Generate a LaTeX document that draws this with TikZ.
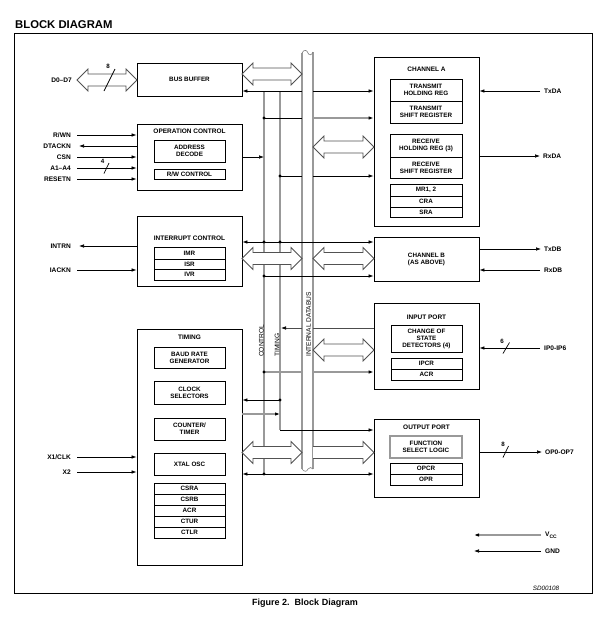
\documentclass[tikz,border=0pt]{standalone}
\usepackage{fontspec}
\setmainfont{Liberation Sans}
\usetikzlibrary{arrows.meta}
\tikzset{
 box/.style={draw, line width=0.8pt, inner sep=0pt, align=center, anchor=center, font=\fontsize{6.3}{7}\selectfont\bfseries},
 txt/.style={inner sep=0pt, align=center, font=\fontsize{6.5}{7}\selectfont\bfseries},
 lbl/.style={inner sep=0pt, font=\fontsize{6.6}{7}\selectfont\bfseries},
 num/.style={inner sep=0pt, font=\fontsize{6.2}{6.5}\selectfont\bfseries},
 tip/.tip={Latex[length=5pt,width=3.6pt,color=black]},
 arr/.style={-tip, line width=0.7pt},
 darr/.style={tip-tip, line width=0.7pt},
 ln/.style={line width=0.7pt},
 gln/.style={line width=1.2pt, draw=black!40},
 garr/.style={-tip, line width=1.2pt, draw=black!40},
 busln/.style={line width=1.4pt, draw=black!40},
 hollow/.style={draw=black!68, line width=0.8pt, fill=white, line join=miter},
 dot/.style={circle, fill=black, inner sep=0pt, minimum size=3.2pt},
 vtxt/.style={inner sep=0pt, rotate=90, anchor=west, font=\fontsize{6.6}{7}\selectfont},
}
\newcommand{\blk}[7][]{\node[box,#1,minimum width={(#5-#3)*1pt},minimum height={(#6-#4)*1pt}] (#2) at ({(#3+#5)/2},{(#4+#6)/2}) {#7};}
\newcommand{\hdbl}[3]{\draw[hollow] (#1,#3) -- ++(11,-11) -- ++(0,5) -- ({#2-11},{#3-6}) -- ++(0,-5) -- (#2,#3) -- ({#2-11},{#3+11}) -- ++(0,-5) -- ({#1+11},{#3+6}) -- ++(0,5) -- cycle;}
\newcommand{\hsgl}[3]{\draw[hollow] (#1,{#3-6}) -- ({#2-11},{#3-6}) -- ++(0,-5) -- (#2,#3) -- ({#2-11},{#3+11}) -- ++(0,-5) -- (#1,{#3+6});}
\begin{document}
\begin{tikzpicture}[x=1pt,y=-1pt]
\useasboundingbox (0,0) rectangle (609,619);
\node[anchor=base west, inner sep=0pt, font=\fontsize{11.3}{12}\selectfont\bfseries] (title) at (15,28) {BLOCK DIAGRAM};
\blk[line width=0.9pt]{frame}{14}{33}{592}{593}{}
\node[anchor=base, inner sep=0pt, font=\fontsize{9}{10}\selectfont\bfseries] (cap) at (305,605) {Figure 2.\ \ Block Diagram};
\node[anchor=base, inner sep=0pt, font=\fontsize{6.3}{7}\selectfont\itshape] (sd) at (546,590) {SD00108};

% internal databus
\fill[white] (302,53) rectangle (313,469);
\draw[busln] (302,53) -- (302,469);
\draw[busln] (313,52) -- (313,469);
\draw[black!50, line width=0.6pt] (302,53) .. controls (304,49) and (307,50) .. (308,53) .. controls (309,56) and (312,55) .. (313,52);
\draw[black!50, line width=0.6pt] (302,469) .. controls (304,472) and (307,472) .. (308,469) .. controls (309,467) and (312,467) .. (313,469);
\node[vtxt] (dbtxt) at (308.5,357) {INTERNAL DATABUS};

% control and timing lines
\coordinate (ctlT) at (264,91);
\coordinate (ctlB) at (264,474);
\coordinate (timT) at (280,91);
\coordinate (timB) at (280,430);
\draw[busln] (ctlT) -- (ctlB);
\draw[busln] (timT) -- (timB);
\node[vtxt] (ctltxt) at (261.3,357) {CONTROL};
\node[vtxt] (timtxt) at (277,357) {TIMING};

% blocks
\blk{busbuf}{137}{63}{242}{96}{BUS BUFFER}
\blk{opctl}{137}{124}{242}{190}{}
\node[txt] (opT) at (189.5,131) {OPERATION CONTROL};
\blk{addr}{154}{140}{225}{162}{ADDRESS\\DECODE}
\blk{rw}{154}{169}{225}{179}{R/W CONTROL}

\blk{intctl}{137}{216}{242}{286}{}
\node[txt] (intT) at (189.5,238) {INTERRUPT CONTROL};
\blk{imr}{154}{247}{225}{259}{IMR}
\blk{isr}{154}{259}{225}{269}{ISR}
\blk{ivr}{154}{269}{225}{280}{IVR}

\blk{timing}{137}{329}{242}{565}{}
\node[txt] (timT2) at (189.5,337) {TIMING};
\blk{baud}{154}{347}{225}{368}{BAUD RATE\\GENERATOR}
\blk{clks}{154}{381}{225}{404}{CLOCK\\SELECTORS}
\blk{ctr}{154}{418}{225}{440}{COUNTER/\\TIMER}
\blk{xtal}{154}{453}{225}{475}{XTAL OSC}
\blk{csra}{154}{483}{225}{494}{CSRA}
\blk{csrb}{154}{494}{225}{505}{CSRB}
\blk{acrT}{154}{505}{225}{516}{ACR}
\blk{ctur}{154}{516}{225}{527}{CTUR}
\blk{ctlr}{154}{527}{225}{538}{CTLR}

\blk{chA}{374}{57}{479}{226}{}
\node[txt] (chAT) at (426.5,69) {CHANNEL A};
\blk{thr}{390}{79}{462}{101}{TRANSMIT\\HOLDING REG}
\blk{tsr}{390}{101}{462}{123}{TRANSMIT\\SHIFT REGISTER}
\blk{rhr}{390}{134}{462}{157}{RECEIVE\\HOLDING REG (3)}
\blk{rsr}{390}{157}{462}{178}{RECEIVE\\SHIFT REGISTER}
\blk{mr}{390}{184}{462}{196}{MR1, 2}
\blk{cra}{390}{196}{462}{207}{CRA}
\blk{sra}{390}{207}{462}{217}{SRA}

\blk{chB}{374}{237}{479}{281}{CHANNEL B\\(AS ABOVE)}

\blk{inport}{374}{303}{479}{389}{}
\node[txt] (inT) at (426.5,317) {INPUT PORT};
\blk{cos}{391}{325}{462}{352}{CHANGE OF\\STATE\\DETECTORS (4)}
\blk{ipcr}{391}{358}{462}{369}{IPCR}
\blk{acrI}{391}{369}{462}{380}{ACR}

\blk{outport}{374}{419}{479}{497}{}
\node[txt] (outT) at (426.5,427) {OUTPUT PORT};
\blk[draw=black!40, line width=1.4pt]{fsl}{390}{436}{462}{458}{FUNCTION\\SELECT LOGIC}
\blk{opcr}{390}{463}{462}{474}{OPCR}
\blk{opr}{390}{474}{462}{485}{OPR}

% left side signals
\node[lbl, anchor=east] (d07) at (72,80) {D0–D7};
\hdbl{77}{137}{80}
\draw[ln] (104,91) -- (115,69);
\node[num] (n8a) at (108,66.5) {8};

\node[lbl, anchor=east] (rwn) at (71,135) {R/WN};
\node[lbl, anchor=east] (dtackn) at (71,146) {DTACKN};
\node[lbl, anchor=east] (csn) at (71,157) {CSN};
\node[lbl, anchor=east] (a14) at (71,168) {A1–A4};
\node[lbl, anchor=east] (resetn) at (71,179) {RESETN};
\draw[arr] ([xshift=6pt]rwn.east) -- (rwn -| opctl.west);
\draw[arr] (dtackn -| opctl.west) -- ([xshift=8pt]dtackn.east);
\draw[arr] ([xshift=6pt]csn.east) -- (csn -| opctl.west);
\draw[arr] ([xshift=6pt]a14.east) -- (a14 -| opctl.west);
\draw[ln] (104,173.5) -- (109,163);
\node[num] (n4) at (102.5,161) {4};
\draw[arr] ([xshift=6pt]resetn.east) -- (resetn -| opctl.west);

\node[lbl, anchor=east] (intrn) at (71,246) {INTRN};
\node[lbl, anchor=east] (iackn) at (71,270) {IACKN};
\draw[arr] (intrn -| intctl.west) -- ([xshift=8pt]intrn.east);
\draw[arr] ([xshift=6pt]iackn.east) -- (iackn -| intctl.west);

\node[lbl, anchor=east] (x1) at (71,457) {X1/CLK};
\node[lbl, anchor=east] (x2) at (71,472) {X2};
\draw[arr] ([xshift=6pt]x1.east) -- (x1 -| timing.west);
\draw[arr] ([xshift=6pt]x2.east) -- (x2 -| timing.west);

% right side signals
\node[lbl, anchor=west] (txda) at (544,91) {TxDA};
\node[lbl, anchor=west] (rxda) at (543,156) {RxDA};
\draw[arr] ([xshift=-4pt]txda.west) -- (txda -| chA.east);
\draw[arr] (rxda -| chA.east) -- ([xshift=-3pt]rxda.west);
\node[lbl, anchor=west] (txdb) at (544,249) {TxDB};
\node[lbl, anchor=west] (rxdb) at (544,270) {RxDB};
\draw[arr] (txdb -| chB.east) -- ([xshift=-3pt]txdb.west);
\draw[arr] ([xshift=-4pt]rxdb.west) -- (rxdb -| chB.east);
\node[lbl, anchor=west] (ip) at (544,348) {IP0-IP6};
\draw[arr] ([xshift=-4pt]ip.west) -- (ip -| inport.east);
\draw[ln] (503,353.5) -- (509.5,342.5);
\node[num] (n6) at (502,341) {6};
\node[lbl, anchor=west] (op) at (545,452) {OP0-OP7};
\draw[arr] (op -| outport.east) -- ([xshift=-3pt]op.west);
\draw[ln] (503,457.5) -- (508.5,446);
\node[num] (n8b) at (503,444.5) {8};
\node[lbl, anchor=west] (vcc) at (545,535) {V{\fontsize{5}{5}\selectfont\raisebox{-1.5pt}{CC}}};
\node[lbl, anchor=west] (gnd) at (545,551) {GND};
\coordinate (vccE) at (474,535);
\coordinate (gndE) at (474,551);
\draw[garr] ([xshift=-4pt]vcc.west) -- (vccE);
\draw[arr] ([xshift=-4pt]gnd.west) -- (gndE);

% bus connections
\draw[arr] (302,91) -- (busbuf.east |- 0,91);
\draw[arr] (313,91) -- (chA.west |- 0,91);
\hdbl{242}{302}{74}
\draw[ln] (264,118) -- (302,118);
\draw[garr] (313,118) -- (chA.west |- 0,118);
\node[dot] (d1) at (264,118) {};
\hdbl{313}{374}{147}
\draw[arr] (opctl.east |- 0,157) -- (264,157);
\draw[ln] (280,176) -- (302,176);
\draw[arr] (313,176) -- (chA.west |- 0,176);
\node[dot] (d2) at (280,176) {};

\draw[darr] (intctl.east |- 0,242) -- (chB.west |- 0,242);
\node[dot] (d3) at (264,242) {};
\node[dot] (d4) at (280,242) {};
\hdbl{242}{302}{258.5}
\hdbl{313}{374}{258.5}
\draw[arr] (264,276) -- (chB.west |- 0,276);
\node[dot] (d5) at (264,276) {};

\draw[ln, draw=black!70] (inport.west |- 0,328) -- (313,328);
\draw[arr, draw=black!70] (302,328) -- (281,328);
\hdbl{313}{374}{350}
\draw[gln] (264,372) -- (302,372);
\draw[garr] (313,372) -- (inport.west |- 0,372);
\node[dot] (d6) at (264,372) {};

\draw[arr] (280,400) -- (timing.east |- 0,400);
\node[dot] (d7) at (280,400) {};
\draw[garr] (timing.east |- 0,414) -- (280,414);
\draw[arr] (timB) -- (outport.west |- 0,430);
\hdbl{242}{302}{452.5}
\hsgl{313}{374}{452.5}
\draw[darr] (timing.east |- 0,474) -- (outport.west |- 0,474);
\node[dot] (d8) at (ctlB) {};
\end{tikzpicture}
\end{document}
